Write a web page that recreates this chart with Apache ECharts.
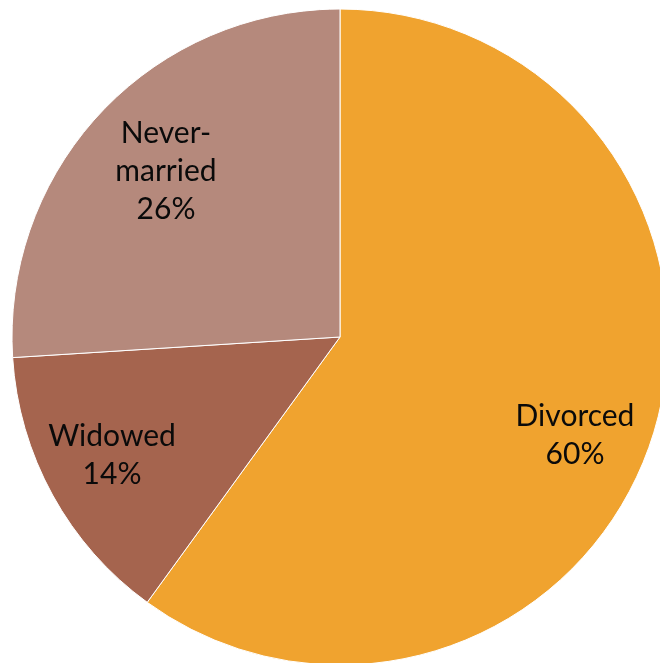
<!DOCTYPE html>
<html>
<head>
<meta charset="utf-8">
<script src="https://cdn.jsdelivr.net/npm/echarts@6/dist/echarts.min.js"></script>
<style>
  html, body { margin: 0; padding: 0; background: #fff; }
  #chart { width: 660px; height: 663px; }
</style>
</head>
<body>
<div id="chart"></div>
<script>
// Marital status shares
const categories = ['Divorced', 'Widowed', 'Never-married'];
const shares = [60, 14, 26];
const sliceColors = ['#F0A32F', '#A5644E', '#B5897C'];

// Label anchor points (px) for each slice
const labelSpots = [[575, 435], [112, 455], [166, 171]];

const chart = echarts.init(document.getElementById('chart'), null, { renderer: 'canvas' });

chart.setOption({
  animation: false,
  series: [{
    type: 'pie',
    center: [340, 337],
    radius: [0, 328],
    startAngle: 90,
    clockwise: true,
    avoidLabelOverlap: false,
    itemStyle: { borderColor: '#ffffff', borderWidth: 1 },
    label: {
      show: true,
      position: 'inside',
      color: '#0a0a0a',
      fontFamily: 'Lato, "DejaVu Sans", sans-serif',
      fontSize: 30,
      lineHeight: 38,
      align: 'center',
      verticalAlign: 'middle',
      formatter: p => p.name.replace('-', '-\n') + '\n' + p.value + '%'
    },
    labelLine: { show: false },
    labelLayout: p => ({ x: labelSpots[p.dataIndex][0], y: labelSpots[p.dataIndex][1], align: 'center', verticalAlign: 'middle' }),
    emphasis: { disabled: true },
    data: categories.map((c, i) => ({ name: c, value: shares[i], itemStyle: { color: sliceColors[i] } }))
  }]
});
</script>
</body>
</html>
